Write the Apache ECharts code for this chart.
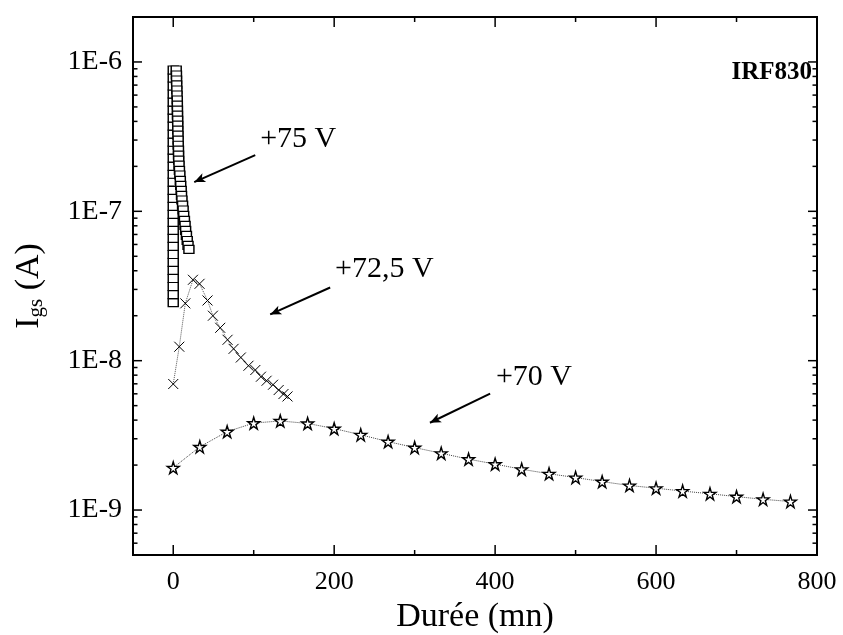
<!DOCTYPE html>
<html>
<head>
<meta charset="utf-8">
<script src="https://cdn.jsdelivr.net/npm/echarts@6/dist/echarts.min.js"></script>
<style>
  html, body { margin: 0; padding: 0; background: #fff; }
  #chart { width: 843px; height: 635px; }
</style>
</head>
<body>
<div id="chart"></div>
<script>
// +75 V : vertical rise at t = 0, then fast decay
const riseY75 = [2.45e-8, 2.77e-8, 3.14e-8, 3.55e-8, 4.02e-8, 4.55e-8, 5.14e-8, 5.82e-8, 6.59e-8, 7.45e-8,
  8.43e-8, 9.54e-8, 1.08e-7, 1.22e-7, 1.38e-7, 1.57e-7, 1.77e-7, 2.00e-7, 2.27e-7, 2.57e-7,
  2.90e-7, 3.29e-7, 3.72e-7, 4.21e-7, 4.76e-7, 5.39e-7, 6.10e-7, 6.90e-7, 7.81e-7, 8.83e-7]
const decayX75 = [3.7, 4.0, 4.1, 4.3, 4.5, 4.7, 5.0, 5.1, 5.2, 5.3, 5.5, 5.6, 5.7, 5.9, 6.1, 6.2, 6.5, 6.6, 6.8,
  7.2, 7.7, 8.2, 8.8, 9.3, 9.9, 10.3, 10.8, 11.6, 12.3, 13.0, 13.9, 14.7, 15.4, 16.4, 17.4, 18.4, 19.5]
const decayY75 = [8.83e-7, 8.18e-7, 7.57e-7, 7.02e-7, 6.49e-7, 6.01e-7, 5.56e-7, 5.14e-7, 4.76e-7, 4.41e-7,
  4.08e-7, 3.78e-7, 3.50e-7, 3.24e-7, 3.00e-7, 2.77e-7, 2.57e-7, 2.38e-7, 2.20e-7, 2.04e-7,
  1.88e-7, 1.75e-7, 1.61e-7, 1.49e-7, 1.38e-7, 1.28e-7, 1.19e-7, 1.10e-7, 1.02e-7, 9.40e-8,
  8.70e-8, 8.05e-8, 7.45e-8, 6.90e-8, 6.38e-8, 5.92e-8, 5.56e-8]

// +72,5 V
const x72 = [0, 7.5, 15, 24.5, 32.7, 42.6, 49.3, 58.4, 67.5, 75, 84, 93.5, 102, 109, 116, 124, 131, 137, 142]
const y72 = [6.98e-9, 1.24e-8, 2.42e-8, 3.48e-8, 3.27e-8, 2.53e-8, 2.00e-8, 1.66e-8, 1.38e-8, 1.20e-8,
  1.05e-8, 9.25e-9, 8.66e-9, 7.81e-9, 7.34e-9, 6.90e-9, 6.36e-9, 5.98e-9, 5.76e-9]

// +70 V
const x70 = [0, 33, 67, 100, 133, 167, 200, 233, 267, 300, 333, 367, 400, 433, 467, 500, 533, 567,
  600, 633, 667, 700, 733, 767]
const y70 = [1.92e-9, 2.65e-9, 3.35e-9, 3.82e-9, 3.95e-9, 3.80e-9, 3.51e-9, 3.19e-9, 2.87e-9, 2.62e-9,
  2.40e-9, 2.19e-9, 2.03e-9, 1.875e-9, 1.75e-9, 1.65e-9, 1.55e-9, 1.46e-9, 1.40e-9, 1.34e-9,
  1.285e-9, 1.23e-9, 1.18e-9, 1.14e-9]

// axes
const xTicks = [0, 100, 200, 300, 400, 500, 600, 700, 800]
const xLabels = [0, 200, 400, 600, 800]
const yDecades = [1e-10, 1e-9, 1e-8, 1e-7, 1e-6]
const yLabels = ['1E-9', '1E-8', '1E-7', '1E-6']
const yMin = 5e-10
const yMax = 2e-6

// annotations, in data coordinates
const notes = [
  { text: '+75 V', at: [108, 3.04e-7], from: [101.9, 2.38e-7], to: [26.1, 1.57e-7] },
  { text: '+72,5 V', at: [201, 4.08e-8], from: [195, 3.09e-8], to: [120.5, 2.04e-8] },
  { text: '+70 V', at: [401, 7.81e-9], from: [393.8, 6.01e-9], to: [319, 3.84e-9] }
]

const FONT = '"Liberation Serif", "Times New Roman", serif'
const STAR = 'path://M50,0 L61,35 L98,35 L68,57 L79,91 L50,70 L21,91 L32,57 L2,35 L39,35 Z'
const CROSS = 'path://M0,0 L10,10 M10,0 L0,10'

const yTicks = []
yDecades.forEach(d => {
    for (let k = 1; k <= 9; k++) {
        const v = d * k
        if (v >= yMin * 0.999 && v <= yMax * 1.001) yTicks.push([0, v, k === 1 ? 1 : 0])
    }
})

const tickStyle = { stroke: '#000', lineWidth: 1.5 }

const renderXTick = (params, api) => {
    const cs = params.coordSys
    const px = api.coord([api.value(0), api.value(1)])[0]
    const len = api.value(2) ? 10 : 5
    const b = cs.y + cs.height
    return {
        type: 'group',
        children: [
            { type: 'line', shape: { x1: px, y1: b, x2: px, y2: b - len }, style: tickStyle },
            { type: 'line', shape: { x1: px, y1: cs.y, x2: px, y2: cs.y + len }, style: tickStyle }
        ]
    }
}

const renderYTick = (params, api) => {
    const cs = params.coordSys
    const py = api.coord([api.value(0), api.value(1)])[1]
    const len = api.value(2) ? 9 : 4.5
    const r = cs.x + cs.width
    return {
        type: 'group',
        children: [
            { type: 'line', shape: { x1: cs.x, y1: py, x2: cs.x + len, y2: py }, style: tickStyle },
            { type: 'line', shape: { x1: r, y1: py, x2: r - len, y2: py }, style: tickStyle }
        ]
    }
}

const isDecade = v => Math.abs(Math.log10(v) - Math.round(Math.log10(v))) < 1e-6

const option = {
    animation: false,
    backgroundColor: '#fff',
    grid: {
        left: 133, right: 26, top: 17, bottom: 80,
        outerBoundsMode: 'none',
        show: true, borderColor: '#000', borderWidth: 2, backgroundColor: 'transparent'
    },
    xAxis: {
        type: 'value',
        min: -50,
        max: 800,
        interval: 50,
        name: 'Durée (mn)',
        nameLocation: 'middle',
        nameGap: 42,
        nameTextStyle: { fontFamily: FONT, fontSize: 34, color: '#000' },
        axisLine: { show: false },
        axisTick: { show: false },
        splitLine: { show: false },
        axisLabel: {
            margin: 14,
            fontFamily: FONT, fontSize: 26, color: '#000',
            formatter: v => xLabels.indexOf(v) >= 0 ? String(v) : ''
        }
    },
    yAxis: {
        type: 'log',
        logBase: 10,
        min: yMin,
        max: yMax,
        name: '{i|I}{s|gs}{i| (A)}',
        nameLocation: 'middle',
        nameGap: 86,
        nameTextStyle: {
            color: '#000',
            rich: {
                i: { fontFamily: FONT, fontSize: 34, color: '#000' },
                s: { fontFamily: FONT, fontSize: 21, color: '#000', verticalAlign: 'bottom', padding: [14, 0, 0, 0] }
            }
        },
        axisLine: { show: false },
        axisTick: { show: false },
        splitLine: { show: false },
        axisLabel: {
            margin: 11,
            fontFamily: FONT, fontSize: 28, color: '#000',
            formatter: v => {
                if (!isDecade(v)) return ''
                const s = '1E' + Math.round(Math.log10(v))
                return yLabels.indexOf(s) >= 0 ? s : ''
            }
        }
    },
    series: [
        {
            type: 'custom',
            silent: true,
            renderItem: renderXTick,
            data: xTicks.map(v => [v, 1e-9, v % 200 === 0 ? 1 : 0]),
            z: 10
        },
        {
            type: 'custom',
            silent: true,
            renderItem: renderYTick,
            data: yTicks,
            z: 10
        },
        {
            name: '+70 V',
            type: 'line',
            data: x70.map((x, i) => [x, y70[i]]),
            symbol: STAR,
            symbolSize: 12,
            showAllSymbol: true,
            itemStyle: { color: '#fff', borderColor: '#000', borderWidth: 1.4 },
            lineStyle: { color: '#444', width: 1, type: 'dotted' },
            markLine: {
                silent: true,
                symbol: ['none', 'arrow'],
                symbolSize: [7, 11],
                label: { show: false },
                lineStyle: { color: '#000', width: 2, type: 'solid' },
                data: notes.map(n => [{ coord: n.from }, { coord: n.to }])
            }
        },
        {
            name: '+72,5 V',
            type: 'line',
            data: x72.map((x, i) => [x, y72[i]]),
            symbol: CROSS,
            symbolSize: 10,
            showAllSymbol: true,
            itemStyle: { color: '#000', borderColor: '#000', borderWidth: 1 },
            lineStyle: { color: '#555', width: 1, type: 'dotted' }
        },
        {
            name: '+75 V',
            type: 'scatter',
            data: riseY75.map(y => [0, y]).concat(decayX75.map((x, i) => [x, decayY75[i]])),
            symbol: 'rect',
            symbolSize: [10, 8],
            itemStyle: { color: '#fff', borderColor: '#000', borderWidth: 1.3, opacity: 1 }
        }
    ]
}

const chart = echarts.init(document.getElementById('chart'), null, { renderer: 'canvas' })
chart.setOption(option)

// text labels placed through the chart's own coordinate system
const graphic = notes.map(n => {
    const p = chart.convertToPixel({ gridIndex: 0 }, n.at)
    return {
        type: 'text',
        x: p[0], y: p[1],
        style: { text: n.text, font: '30px ' + FONT, fill: '#000', verticalAlign: 'middle' }
    }
})
graphic.push({
    type: 'text',
    right: 31, top: 60,
    style: { text: 'IRF830', font: 'bold 25px ' + FONT, fill: '#000' }
})
chart.setOption({ graphic })
</script>
</body>
</html>
